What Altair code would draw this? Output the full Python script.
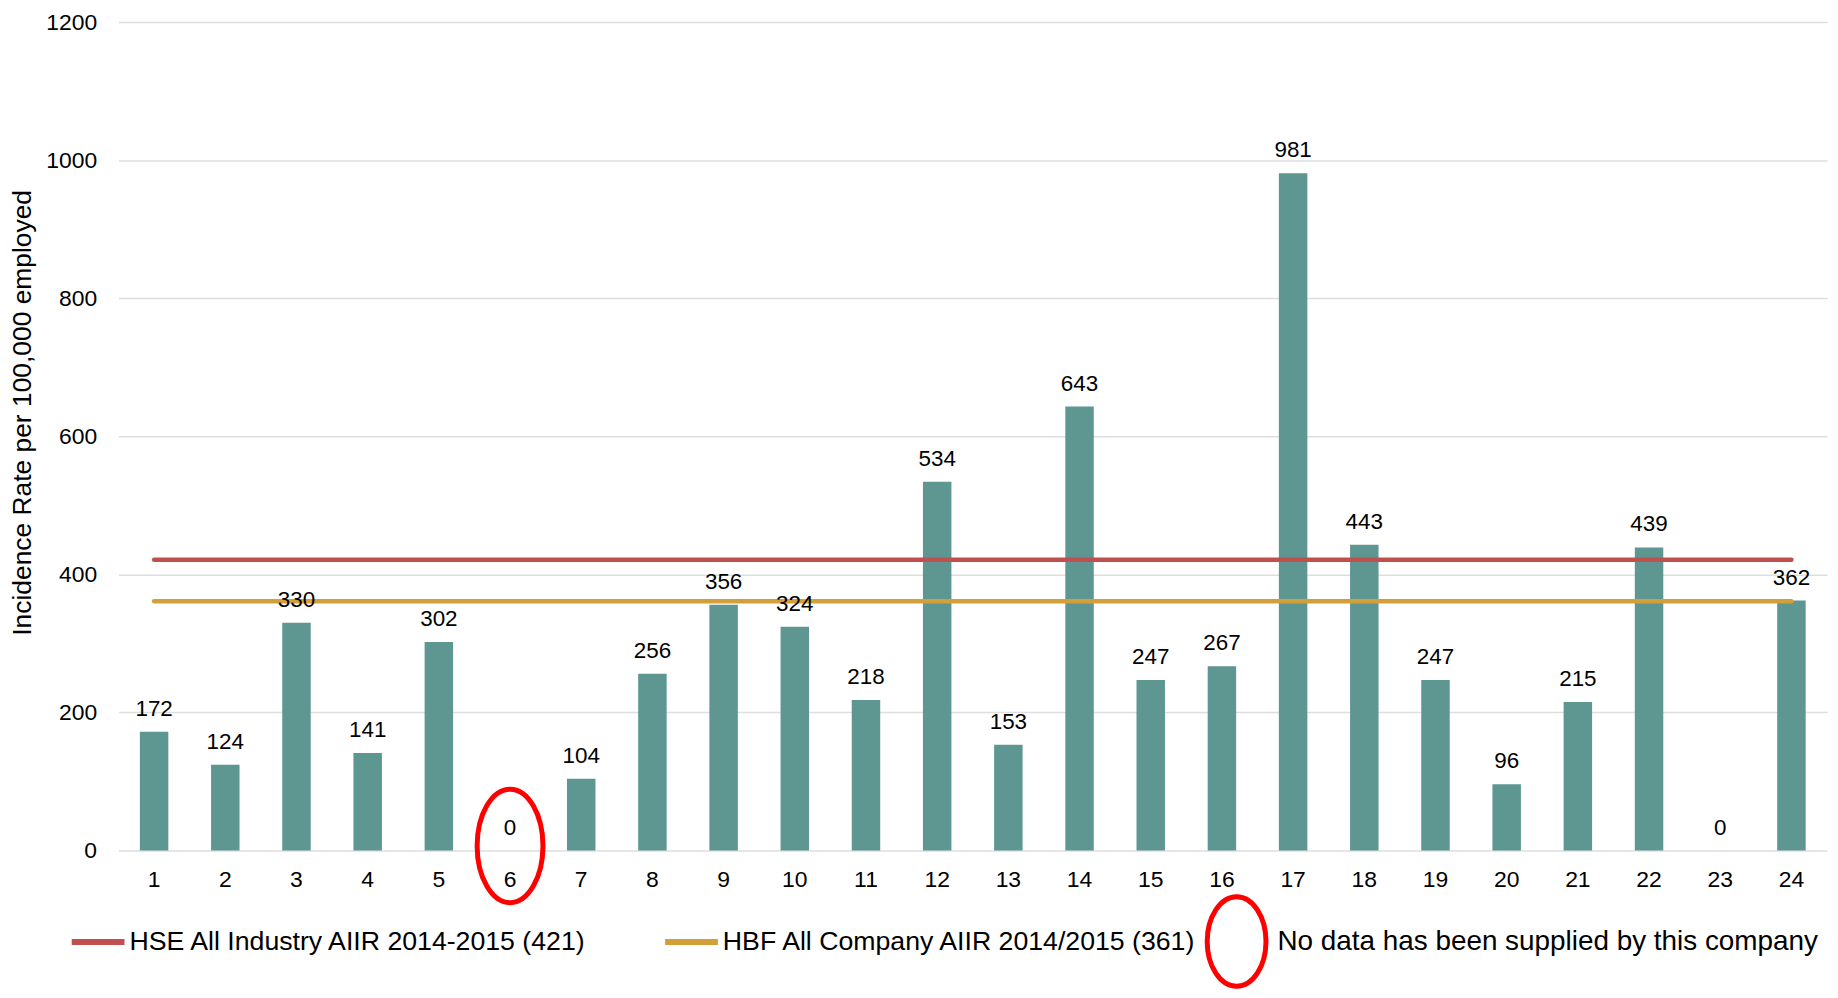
import altair as alt
import pandas as pd

# ---- data ----
companies = [str(i) for i in range(1, 25)]
rates = [172, 124, 330, 141, 302, 0, 104, 256, 356, 324, 218, 534,
         153, 643, 247, 267, 981, 443, 247, 96, 215, 439, 0, 362]
no_data_companies = ["6"]
no_data_label = "No data has been supplied by this company"
benchmark_names = ["HSE All Industry AIIR 2014-2015 (421)",
                   "HBF All Company AIIR 2014/2015 (361)"]
benchmark_values = [421, 361]
benchmark_colors = ["#C0504D", "#D39F38"]
y_ticks = [0, 200, 400, 600, 800, 1000, 1200]

BAR_COLOR = "#5E9692"
RING_COLOR = "#FF0000"
FONT = "Liberation Sans, Arial, sans-serif"

# ellipse outlines (unit box -1..1)
PLOT_RING = "M -0.58 0 A 0.58 1 0 1 1 0.58 0 A 0.58 1 0 1 1 -0.58 0 Z"
LEGEND_RING = "M -0.423 0 A 0.656 1 0 1 1 0.889 0 A 0.656 1 0 1 1 -0.423 0 Z"

bars_df = pd.DataFrame({"company": companies, "rate": rates})
lines_df = pd.DataFrame(
    [{"series": n, "company": c, "rate": v}
     for n, v in zip(benchmark_names, benchmark_values)
     for c in (companies[0], companies[-1])]
)
rate_of = dict(zip(companies, rates))
ring_df = pd.DataFrame({
    "company": no_data_companies,
    "rate": [rate_of[c] for c in no_data_companies],
    "note": [no_data_label] * len(no_data_companies),
})

PLOT_H = 832
TOP = 12

x_scale = alt.Scale(domain=companies, paddingInner=0.6, paddingOuter=0.3)
y_scale = alt.Scale(domain=[0, 1200], nice=False)

x_axis = alt.Axis(title=None, labelAngle=0, labelFontSize=23, labelPadding=18,
                  ticks=False, domain=False, grid=False, labelColor="black",
                  labelFont=FONT)
y_axis = alt.Axis(values=y_ticks, format="d",
                  title="Incidence Rate per 100,000 employed",
                  titleFontSize=26.5, titleFont=FONT, titleFontWeight="normal",
                  titleColor="black", titleX=-96, titleY=392, titleBaseline="middle",
                  labelFontSize=23, labelFont=FONT, labelColor="black",
                  labelPadding=22, ticks=False, domain=False,
                  grid=True, gridColor="#DEDEDE", gridWidth=1.5)

X = lambda: alt.X("company:N", sort=companies, scale=x_scale)
Y = lambda: alt.Y("rate:Q", scale=y_scale)

bars = alt.Chart(bars_df).mark_bar(color=BAR_COLOR).encode(
    x=alt.X("company:N", sort=companies, scale=x_scale, axis=x_axis),
    y=alt.Y("rate:Q", scale=y_scale, axis=y_axis),
)

lines = alt.Chart(lines_df).mark_line(strokeWidth=4.5, strokeCap="round").encode(
    x=X(), y=Y(),
    color=alt.Color("series:N",
                    scale=alt.Scale(domain=benchmark_names, range=benchmark_colors),
                    legend=alt.Legend(orient="none", legendX=-50, legendY=894,
                                      direction="horizontal", title=None,
                                      symbolType="stroke", symbolSize=53 * 53,
                                      symbolStrokeWidth=6, labelFontSize=26.8,
                                      labelFont=FONT, labelColor="black",
                                      labelOffset=2, labelLimit=1000,
                                      columnPadding=65, padding=0)),
    detail="series:N",
)

labels = alt.Chart(bars_df).mark_text(
    baseline="alphabetic", align="center", dy=-16, fontSize=22.5,
    font=FONT, color="black"
).encode(
    x=X(), y=Y(),
    text=alt.Text("rate:Q"),
)

ring = alt.Chart(ring_df).mark_point(
    shape=PLOT_RING, filled=False, color=RING_COLOR, strokeWidth=5,
    size=114 * 114, yOffset=-4.5, opacity=1
).encode(x=X(), y=Y())

ring_key = alt.Chart(ring_df).mark_point(
    filled=False, color=RING_COLOR, strokeWidth=5, opacity=0
).encode(
    x=X(), y=Y(),
    shape=alt.Shape("note:N", scale=alt.Scale(domain=[no_data_label], range=[LEGEND_RING]),
                    legend=alt.Legend(orient="none", legendX=1032, legendY=876,
                                      title=None, symbolSize=90 * 90,
                                      symbolStrokeWidth=5, symbolStrokeColor=RING_COLOR,
                                      symbolFillColor="transparent", symbolOpacity=1,
                                      symbolOffset=33, labelFontSize=28,
                                      labelFont=FONT, labelColor="black",
                                      labelOffset=4, labelLimit=1000, padding=0)),
)

chart = alt.layer(bars, lines, labels, ring, ring_key).resolve_scale(
    color="independent", shape="independent"
).properties(
    width=1716, height=PLOT_H,
    autosize=alt.AutoSizeParams(type="none"),
    padding={"left": 111, "top": TOP, "right": 3, "bottom": 137},
    background="white",
).configure_view(stroke=None)

chart.save("out.html", embed_options={"renderer": "svg", "actions": False})
